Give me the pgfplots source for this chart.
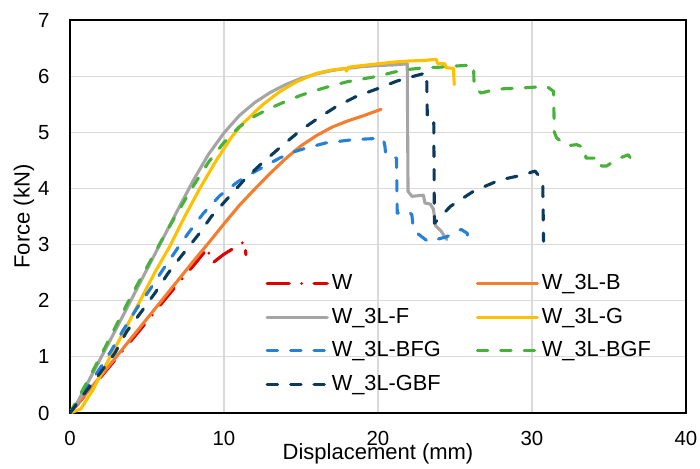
\documentclass[border=0pt]{standalone}
\usepackage{fontspec}
\setmainfont{Liberation Sans}
\usepackage{pgfplots}
\pgfplotsset{compat=1.18}

\definecolor{cW}{HTML}{E00000}
\definecolor{cB}{HTML}{F47E2E}
\definecolor{cF}{HTML}{A5A5A5}
\definecolor{cG}{HTML}{FFC000}
\definecolor{cBFG}{HTML}{2680D4}
\definecolor{cBGF}{HTML}{48B13A}
\definecolor{cGBF}{HTML}{0B3A5C}
\definecolor{gridc}{HTML}{D9D9D9}

\begin{document}
\begin{tikzpicture}
\path[use as bounding box] (-35pt,-27.5pt) rectangle (315pt,206.5pt);
\begin{axis}[
  at={(0,0)}, anchor=south west,
  scale only axis, width=308pt, height=196.5pt,
  xmin=0, xmax=40, ymin=0, ymax=7,
  xtick={0,10,...,40}, ytick={0,1,...,7},
  grid=major, major grid style={draw=gridc, line width=0.6pt},
  axis line style={line width=0.9pt, black},
  major tick length=0pt,
  /pgf/number format/assume math mode=true,
  tick label style={font=\fontsize{10.2}{12}\selectfont},
  xticklabel style={yshift=-5.6pt},
  yticklabel style={xshift=-6.7pt},
  xlabel={Displacement (mm)}, ylabel={Force (kN)},
  label style={font=\fontsize{11}{13}\selectfont},
  xlabel style={at={(axis description cs:0.5,-0.105)}, anchor=center},
  ylabel style={at={(axis description cs:-0.0747,0.5)}, anchor=center},
  legend columns=2,
  legend cell align=left,
  legend style={at={(axis description cs:0.317,0.361)}, anchor=north west,
    draw=none, fill=none, inner sep=0pt, row sep=4.85pt,
    font=\fontsize{10.9}{12}\selectfont,
    nodes={inner sep=1.5pt, text height=7.5pt, text depth=1.5pt},
    /tikz/every even column/.append style={column sep=16pt}},
  legend image code/.code={\draw[#1] (0pt,0pt) -- (30pt,0pt);},
  every axis plot/.append style={line width=1.55pt, line join=round, line cap=round},
]
% W
\addplot[cW, dash pattern=on 11pt off 6.2pt on 0pt off 6.2pt] coordinates {
(0,0) (1,0.32) (2,0.64) (3,0.97) (4,1.3) (5,1.63) (6,1.97) (7,2.3) (8,2.62)
(8.98,2.95) (9.05,2.72) (9.3,2.68) (9.95,2.82) (11.36,3.06) (11.42,2.82)};
\addlegendentry{W}
% W_3L-B
\addplot[cB] coordinates {
(0,0) (1,0.33) (2,0.66) (3,1.0) (4,1.34) (5,1.68) (6,2.02) (7,2.36) (8,2.7)
(9,3.03) (10,3.37) (11,3.7) (12,3.99) (13,4.27) (14,4.53) (15,4.76) (16,4.94)
(17,5.09) (18,5.2) (19,5.29) (20.2,5.41)};
\addlegendentry{W\_3L-B}
% W_3L-F
\addplot[cF] coordinates {
(0,0) (0.5,0.2) (1,0.46) (2,0.98) (3,1.5) (4,2.03) (5,2.56) (6,3.09) (7,3.62)
(8,4.14) (9,4.61) (10,4.99) (11,5.3) (12,5.53) (13,5.71) (14,5.85) (15,5.96)
(16,6.04) (17,6.1) (18,6.14) (19,6.17) (20,6.19) (21,6.2) (21.9,6.22)
(21.95,3.95) (22.2,3.86) (22.95,3.88) (23.05,3.74) (23.4,3.72) (23.6,3.63)
(23.75,3.33) (24.1,3.24) (24.46,3.09)};
\addlegendentry{W\_3L-F}
% W_3L-G
\addplot[cG] coordinates {
(0,0) (0.7,0.07) (1.5,0.42) (2.6,1.0) (3.6,1.5) (4.55,2.0) (5.5,2.5) (6.5,2.98)
(7.45,3.5) (8.43,4.0) (9.5,4.5) (10.5,4.92) (11.2,5.15) (12,5.36) (12.55,5.5)
(13.6,5.72) (14.7,5.9) (16,6.05) (17,6.11) (17.9,6.14) (17.95,6.09) (18.1,6.16)
(19,6.19) (20,6.22) (21,6.25) (22,6.27) (23,6.28) (23.8,6.3) (23.85,6.23)
(24.35,6.22) (24.4,6.15) (24.9,6.14) (24.95,5.85)};
\addlegendentry{W\_3L-G}
% W_3L-BFG
\addplot[cBFG, dash pattern=on 5.2pt off 6.5pt] coordinates {
(0,0) (1,0.4) (2,0.82) (2.7,1.12) (3.46,1.48) (4.33,1.86) (5.19,2.2) (5.95,2.52)
(6.55,2.76) (7.2,3.02) (7.78,3.24) (8.64,3.55) (9.72,3.87) (10.9,4.12) (12,4.3)
(13,4.45) (13.6,4.54) (14.5,4.65) (15.35,4.72) (16.6,4.81) (18.4,4.87)
(19.9,4.89) (20.35,4.88) (20.45,4.75) (20.5,4.6) (21.2,4.54) (21.25,3.56)
(22.0,3.59) (22.2,3.53) (22.3,3.26) (22.7,3.17) (23.27,3.05) (24.46,3.14)
(25.4,3.27) (25.8,3.2) (25.82,3.11)};
\addlegendentry{W\_3L-BFG}
% W_3L-BGF
\addplot[cBGF, dash pattern=on 5.2pt off 6.5pt] coordinates {
(0,0) (1,0.5) (2,1.02) (3,1.56) (4,2.1) (5,2.6) (6,3.1) (7,3.58) (8,4.04)
(9,4.47) (10,4.82) (10.4,4.93) (11,5.1) (12,5.29) (13,5.43) (14,5.55) (15,5.66)
(16,5.75) (17,5.83) (18,5.9) (19,5.95) (20,6.0) (21,6.07) (22,6.12) (23,6.15)
(24,6.16) (25,6.18) (26.2,6.2) (26.25,5.79) (26.7,5.7) (27.7,5.77) (29.4,5.79)
(30.95,5.82) (31.4,5.73) (31.45,5.0) (31.6,4.9) (32.25,4.76) (32.9,4.78)
(33.45,4.72) (33.5,4.54) (34.4,4.54) (34.5,4.4) (34.85,4.4) (35.5,4.52)
(36.25,4.6) (36.47,4.51) (36.5,4.33)};
\addlegendentry{W\_3L-BGF}
% W_3L-GBF
\addplot[cGBF, dash pattern=on 5.2pt off 6.5pt] coordinates {
(0,0) (1,0.37) (1.95,0.71) (2.92,1.07) (3.68,1.45) (4.65,1.81) (5.5,2.13)
(6.37,2.49) (7.24,2.8) (8.32,3.17) (9.18,3.5) (10.26,3.83) (11.24,4.13)
(12.3,4.41) (13.6,4.72) (14.9,5.02) (16.1,5.25) (17.3,5.46) (18.6,5.64)
(20.1,5.79) (21.2,5.91) (22.2,5.99) (23.16,6.06) (23.2,5.31) (23.5,5.29)
(23.62,5.29) (23.66,3.38) (24.7,3.68) (26.2,3.95) (27.9,4.15) (29.4,4.24)
(30.2,4.31) (30.4,4.24) (30.7,4.09) (30.75,3.06)};
\addlegendentry{W\_3L-GBF}
\end{axis}
\end{tikzpicture}
\end{document}
